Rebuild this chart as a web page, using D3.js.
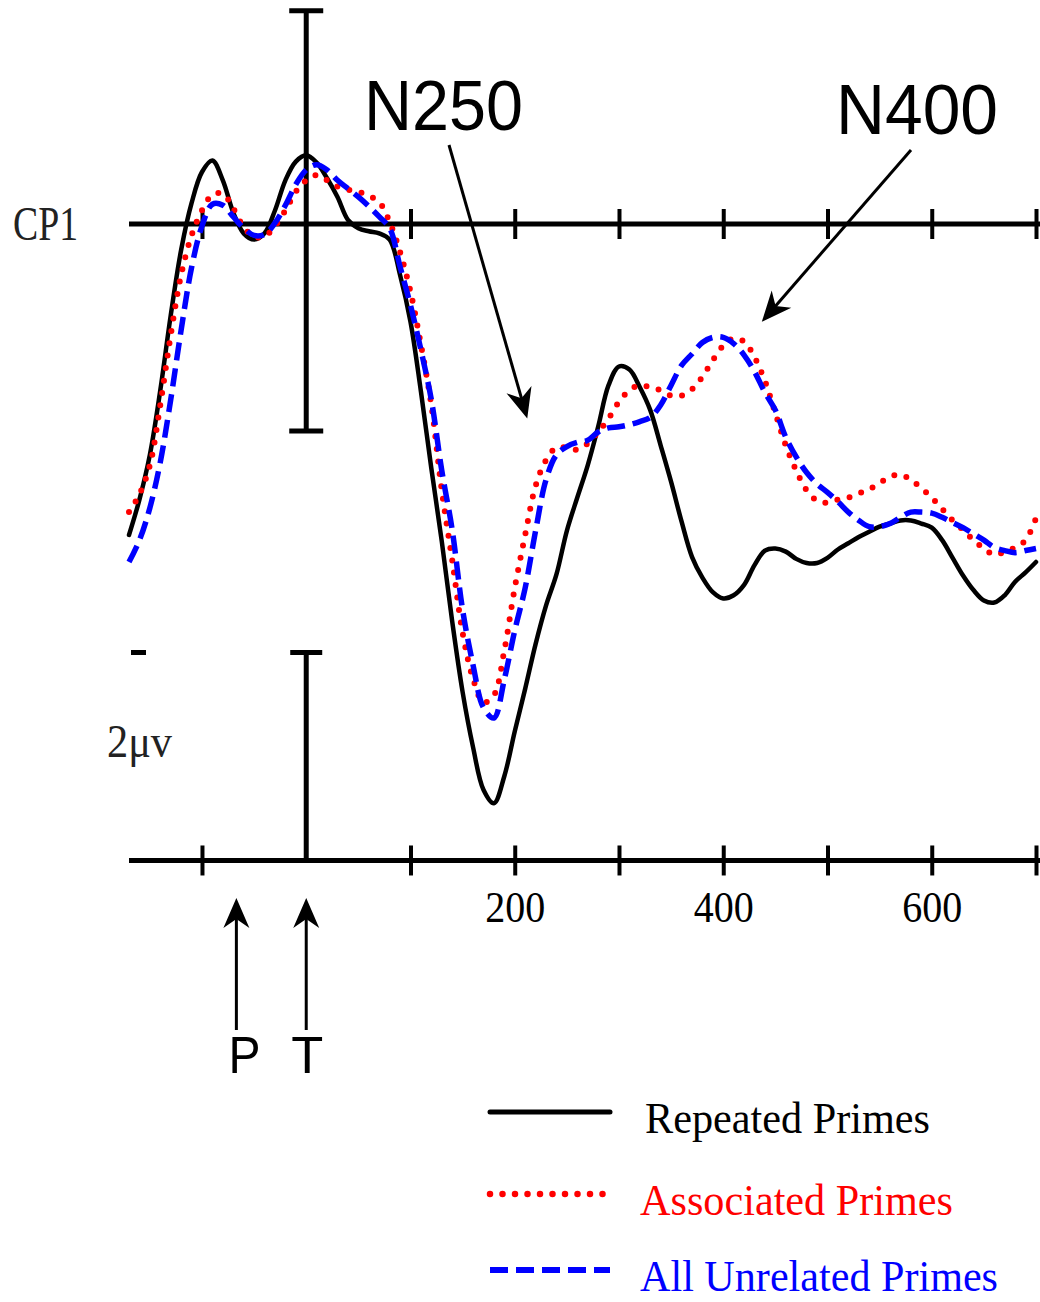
<!DOCTYPE html>
<html>
<head>
<meta charset="utf-8">
<script src="https://cdn.jsdelivr.net/npm/d3@7"></script>
<style>
  body { margin: 0; background: #fff; }
  svg { display: block; }
</style>
</head>
<body>
<div id="plot"></div>
<script>
// sample times (ms) and ERP amplitudes at CP1 (µV, negative up)
const times = [
  -170, -160, -150, -140, -130, -120, -110, -100,
  -90, -80, -70, -60, -50, -40, -30, -20, -10, 0,
  10, 20, 30, 40, 50, 60, 70, 80, 90, 100,
  110, 120, 130, 140, 150, 160, 170, 180, 190, 200,
  210, 220, 230, 240, 250, 260, 270, 280, 290, 300,
  310, 320, 330, 340, 350, 360, 370, 380, 390, 400,
  410, 420, 430, 440, 450, 460, 470, 480, 490, 500,
  510, 520, 530, 540, 550, 560, 570, 580, 590, 600,
  610, 620, 630, 640, 650, 660, 670, 680, 690, 700
];

const repeated = [
  2.99, 2.65, 2.22, 1.60, 0.88, 0.25, -0.20, -0.50,
  -0.61, -0.42, -0.11, 0.09, 0.15, 0.09, -0.13, -0.42, -0.60, -0.66,
  -0.59, -0.44, -0.26, -0.04, 0.04, 0.07, 0.09, 0.15, 0.49, 0.94,
  1.61, 2.35, 3.05, 3.82, 4.50, 5.03, 5.44, 5.57, 5.31, 4.88,
  4.47, 4.04, 3.67, 3.37, 2.95, 2.63, 2.32, 1.95, 1.55, 1.37,
  1.40, 1.57, 1.79, 2.13, 2.48, 2.86, 3.20, 3.40, 3.54, 3.60,
  3.57, 3.47, 3.28, 3.14, 3.12, 3.15, 3.22, 3.26, 3.26, 3.21,
  3.13, 3.07, 3.01, 2.96, 2.91, 2.88, 2.85, 2.85, 2.88, 2.92,
  3.04, 3.21, 3.38, 3.52, 3.62, 3.64, 3.57, 3.44, 3.35, 3.25
];

const associated = [
  2.77, 2.60, 2.32, 1.74, 1.07, 0.49, 0.11, -0.13,
  -0.28, -0.29, -0.15, 0.03, 0.12, 0.12, 0.02, -0.13, -0.31, -0.42,
  -0.47, -0.42, -0.36, -0.33, -0.31, -0.27, -0.21, -0.02, 0.27, 0.65,
  1.16, 1.74, 2.56, 3.23, 3.93, 4.37, 4.60, 4.53, 4.10, 3.50,
  2.99, 2.52, 2.27, 2.15, 2.15, 2.17, 2.11, 2.00, 1.87, 1.71,
  1.60, 1.55, 1.57, 1.60, 1.65, 1.65, 1.59, 1.47, 1.31, 1.17,
  1.10, 1.13, 1.28, 1.51, 1.82, 2.13, 2.37, 2.56, 2.66, 2.68,
  2.65, 2.63, 2.59, 2.55, 2.49, 2.43, 2.41, 2.46, 2.54, 2.63,
  2.74, 2.85, 2.94, 3.04, 3.12, 3.18, 3.15, 3.11, 3.04, 2.83
];

const unrelated = [
  3.25, 3.04, 2.73, 2.29, 1.69, 1.02, 0.42, 0.02,
  -0.19, -0.18, -0.07, 0.04, 0.11, 0.10, -0.01, -0.18, -0.38, -0.52,
  -0.57, -0.52, -0.42, -0.34, -0.26, -0.17, -0.07, 0.04, 0.41, 0.78,
  1.21, 1.69, 2.37, 2.94, 3.71, 4.24, 4.65, 4.75, 4.38, 3.91,
  3.50, 2.95, 2.46, 2.22, 2.14, 2.10, 2.08, 2.00, 1.96, 1.95,
  1.93, 1.90, 1.86, 1.74, 1.55, 1.36, 1.25, 1.14, 1.09, 1.09,
  1.15, 1.26, 1.42, 1.62, 1.79, 2.05, 2.24, 2.39, 2.50, 2.58,
  2.67, 2.77, 2.85, 2.91, 2.91, 2.88, 2.82, 2.77, 2.77, 2.78,
  2.82, 2.87, 2.92, 2.98, 3.04, 3.11, 3.14, 3.16, 3.14, 3.12
];

const tickTimes = [-100, 100, 200, 300, 400, 500, 600, 700];
const tickLabels = [200, 400, 600];

const seriesNames = ["Repeated Primes", "Associated Primes", "All Unrelated Primes"];
const seriesColors = ["#000000", "#ff0000", "#0000ff"];

const width = 1040;
const height = 1302;
const serif = "'Liberation Serif', 'Times New Roman', serif";
const sans = "'Liberation Sans', Arial, sans-serif";

const svg = d3
  .select("#plot")
  .append("svg")
  .attr("width", width)
  .attr("height", height);

const x = d3.scaleLinear().domain([-170, 700]).range([129, 1036]);
const y = d3.scaleLinear().domain([-2, 2]).range([16, 432]);

const baseY = y(0);
const lowerY = y(6.12);

// upper baseline (CP1) with crossing ticks
const topAxis = svg
  .append("g")
  .attr("transform", `translate(0, ${baseY})`)
  .call(d3.axisBottom(x).tickValues(tickTimes).tickSize(15).tickFormat(""));
topAxis.select(".domain").remove();
topAxis.selectAll(".tick line").attr("y1", -15).attr("y2", 15).attr("stroke-width", 4);

svg
  .append("line")
  .attr("x1", x(-170))
  .attr("x2", width)
  .attr("y1", baseY)
  .attr("y2", baseY)
  .attr("stroke", "#000")
  .attr("stroke-width", 5);

// lower time axis
const botAxis = svg
  .append("g")
  .attr("transform", `translate(0, ${lowerY})`)
  .call(
    d3
      .axisBottom(x)
      .tickValues(tickTimes)
      .tickSize(15)
      .tickFormat((d) => (tickLabels.includes(d) ? d : ""))
  );
botAxis.select(".domain").remove();
botAxis.selectAll(".tick line").attr("y1", -15).attr("y2", 15).attr("stroke-width", 4);
botAxis
  .selectAll(".tick text")
  .attr("y", 62)
  .attr("dy", 0)
  .attr("fill", "#000")
  .style("font-family", serif)
  .style("font-size", "44px")
  .attr("textLength", (d) => (tickLabels.includes(d) ? 60 : null))
  .attr("lengthAdjust", "spacingAndGlyphs");

svg
  .append("line")
  .attr("x1", x(-170))
  .attr("x2", width)
  .attr("y1", lowerY)
  .attr("y2", lowerY)
  .attr("stroke", "#000")
  .attr("stroke-width", 5);

// vertical bar at stimulus onset (-2 .. 2 µV)
const bar = svg.append("g").attr("stroke", "#000").attr("stroke-width", 5);
bar.append("line").attr("x1", x(0)).attr("x2", x(0)).attr("y1", y(-2.05)).attr("y2", y(1.99));
bar.append("line").attr("x1", x(0) - 17).attr("x2", x(0) + 17).attr("y1", y(-2.05)).attr("y2", y(-2.05));
bar.append("line").attr("x1", x(0) - 17).attr("x2", x(0) + 17).attr("y1", y(1.99)).attr("y2", y(1.99));

// calibration bar 2 µV
const capY = y(4.12);
bar.append("line").attr("x1", x(0)).attr("x2", x(0)).attr("y1", capY).attr("y2", lowerY);
bar.append("line").attr("x1", x(0) - 16).attr("x2", x(0) + 16).attr("y1", capY).attr("y2", capY);
bar.append("line").attr("x1", 131).attr("x2", 146).attr("y1", capY).attr("y2", capY);

// waveforms
const line = d3
  .line()
  .x((d) => x(d[0]))
  .y((d) => y(d[1]))
  .curve(d3.curveCatmullRom.alpha(0.5));

const allSeries = [repeated, associated, unrelated];
const styles = [
  { w: 4.5, dash: null, cap: "round" },
  { w: 6, dash: "0 12.5", cap: "round" },
  { w: 5.5, dash: "18 8", cap: "butt" },
];

allSeries.forEach((vals, i) => {
  svg
    .append("path")
    .datum(times.map((t, j) => [t, vals[j]]))
    .attr("d", line)
    .attr("fill", "none")
    .attr("stroke", seriesColors[i])
    .attr("stroke-width", styles[i].w)
    .attr("stroke-dasharray", styles[i].dash)
    .attr("stroke-linecap", styles[i].cap)
    .attr("stroke-linejoin", "round");
});

// labels
svg
  .append("text")
  .text("CP1")
  .attr("x", 13)
  .attr("y", 240)
  .style("font-family", serif)
  .style("font-size", "48px")
  .attr("textLength", 65)
  .attr("lengthAdjust", "spacingAndGlyphs")
  .attr("fill", "#222");

svg
  .append("text")
  .text("2\u03bcv")
  .attr("x", 107)
  .attr("y", 757)
  .style("font-family", serif)
  .style("font-size", "46px")
  .attr("textLength", 65)
  .attr("lengthAdjust", "spacingAndGlyphs")
  .attr("fill", "#222");

svg
  .append("text")
  .text("N250")
  .attr("x", 364)
  .attr("y", 130)
  .style("font-family", sans)
  .style("font-size", "70px")
  .attr("textLength", 159)
  .attr("lengthAdjust", "spacingAndGlyphs");

svg
  .append("text")
  .text("N400")
  .attr("x", 836)
  .attr("y", 134)
  .style("font-family", sans)
  .style("font-size", "70px")
  .attr("textLength", 162)
  .attr("lengthAdjust", "spacingAndGlyphs");

// arrows
function arrow(x1, y1, x2, y2, w) {
  const ang = Math.atan2(y2 - y1, x2 - x1);
  const back = 18;
  svg
    .append("line")
    .attr("x1", x1)
    .attr("y1", y1)
    .attr("x2", x2 - back * Math.cos(ang))
    .attr("y2", y2 - back * Math.sin(ang))
    .attr("stroke", "#000")
    .attr("stroke-width", w);
  svg
    .append("path")
    .attr("d", "M0,0 L-30,-13 L-21,0 L-30,13 Z")
    .attr("fill", "#000")
    .attr("transform", `translate(${x2},${y2}) rotate(${(ang * 180) / Math.PI})`);
}

arrow(449, 145, x(212), y(1.87), 3);
arrow(911, 150, x(437), y(0.94), 3);

// stimulus arrows P (prime) and T (target)
const stim = [
  { t: -67, label: "P", dx: 8 },
  { t: 0, label: "T", dx: 1 },
];
stim.forEach((s) => {
  arrow(x(s.t), 1030, x(s.t), 898, 3);
  svg
    .append("text")
    .text(s.label)
    .attr("x", x(s.t) + s.dx)
    .attr("y", 1073)
    .attr("text-anchor", "middle")
    .style("font-family", sans)
    .style("font-size", "52px")
    .attr("textLength", 32)
    .attr("lengthAdjust", "spacingAndGlyphs");
});

// legend
const legendY = [1112, 1194, 1270];
const legendW = [285, 313, 358];
seriesNames.forEach((name, i) => {
  svg
    .append("line")
    .attr("x1", 490)
    .attr("x2", 610)
    .attr("y1", legendY[i])
    .attr("y2", legendY[i])
    .attr("stroke", seriesColors[i])
    .attr("stroke-width", styles[i].w + 0.5)
    .attr("stroke-dasharray", styles[i].dash)
    .attr("stroke-linecap", styles[i].cap);
  svg
    .append("text")
    .text(name)
    .attr("x", i === 0 ? 645 : 640)
    .attr("y", legendY[i] + 21)
    .attr("fill", seriesColors[i])
    .style("font-family", serif)
    .style("font-size", "44px")
    .attr("textLength", legendW[i])
    .attr("lengthAdjust", "spacingAndGlyphs");
});
</script>
</body>
</html>
